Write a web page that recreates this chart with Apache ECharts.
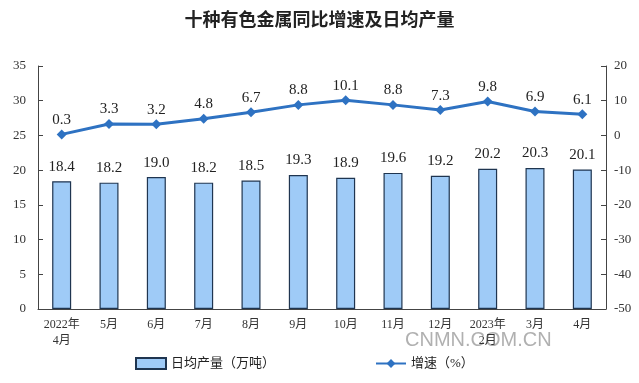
<!DOCTYPE html>
<html><head><meta charset="utf-8">
<script src="https://cdn.jsdelivr.net/npm/echarts@6/dist/echarts.min.js"></script>
<style>html,body{margin:0;padding:0;background:#fff}#c{width:639px;height:383px}</style>
</head><body><div id="c"></div>
<script>
const categories = ['2022年\n4月','5月','6月','7月','8月','9月','10月','11月','12月','2023年\n2月','3月','4月'];
const output = [18.4,18.2,19.0,18.2,18.5,19.3,18.9,19.6,19.2,20.2,20.3,20.1];
const growth = [0.3,3.3,3.2,4.8,6.7,8.8,10.1,8.8,7.3,9.8,6.9,6.1];
const serif = '"Liberation Serif","Noto Sans CJK SC",serif';
const chart = echarts.init(document.getElementById('c'));
chart.setOption({
  animation:false,
  title:{text:'十种有色金属同比增速及日均产量',left:'center',top:5,textStyle:{fontSize:18,fontWeight:'bold',color:'#222',fontFamily:'"Noto Sans CJK SC",sans-serif'}},
  legend:{bottom:8,itemGap:100,left:130,textStyle:{fontFamily:serif,fontSize:13,color:'#222'},
    data:[{name:'日均产量（万吨）',icon:'rect'},{name:'增速（%）'}],itemWidth:30,itemHeight:11},
  grid:{left:38,right:33,top:66,bottom:74},
  xAxis:{type:'category',data:categories,
    axisLine:{lineStyle:{color:'#444'}},
    axisTick:{inside:true,alignWithLabel:false,lineStyle:{color:'#444'}},
    axisLabel:{fontFamily:serif,fontSize:12,color:'#333',interval:0,lineHeight:16}},
  yAxis:[
    {type:'value',min:0,max:35,interval:5,splitLine:{show:false},
     axisLine:{show:true,lineStyle:{color:'#444'}},axisTick:{show:true,inside:true,lineStyle:{color:'#444'}},
     axisLabel:{fontFamily:serif,fontSize:13,color:'#333',margin:12}},
    {type:'value',min:-50,max:20,interval:10,splitLine:{show:false},
     axisLine:{show:true,lineStyle:{color:'#444'}},axisTick:{show:true,inside:true,lineStyle:{color:'#444'}},
     axisLabel:{fontFamily:serif,fontSize:13,color:'#333',margin:8}}
  ],
  graphic:[{type:'text',left:405,top:330,style:{text:'CNMN.COM.CN',fontSize:20,fontFamily:'"Liberation Sans",sans-serif',fill:'rgba(150,150,150,0.75)'}}],
  series:[
    {name:'日均产量（万吨）',type:'bar',data:output,barWidth:19,
     itemStyle:{color:'#9fcbf7',borderColor:'#1f3550',borderWidth:1.2},
     label:{show:true,position:'top',distance:7,formatter:p=>p.value.toFixed(1),fontFamily:serif,fontSize:15,color:'#222'}},
    {name:'增速（%）',type:'line',yAxisIndex:1,data:growth,symbol:'diamond',symbolSize:10,
     lineStyle:{color:'#2e72c2',width:3},itemStyle:{color:'#2e72c2'},
     label:{show:true,position:'top',distance:2,formatter:p=>p.value.toFixed(1),fontFamily:serif,fontSize:15,color:'#222'}}
  ]
});
</script></body></html>
